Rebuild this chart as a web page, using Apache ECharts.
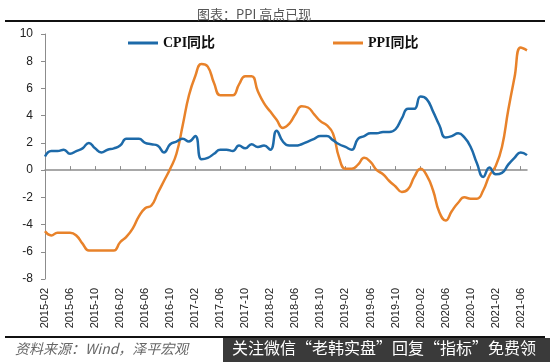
<!DOCTYPE html>
<html>
<head>
<meta charset="utf-8">
<script src="https://cdn.jsdelivr.net/npm/echarts@6/dist/echarts.min.js"></script>
<style>html,body{margin:0;padding:0;background:#fff}#c{width:550px;height:362px}</style>
</head>
<body>
<div id="c"></div>
<script>
var categories = [
'2015-02','2015-03','2015-04','2015-05','2015-06','2015-07','2015-08','2015-09','2015-10','2015-11','2015-12','2016-01',
'2016-02','2016-03','2016-04','2016-05','2016-06','2016-07','2016-08','2016-09','2016-10','2016-11','2016-12','2017-01',
'2017-02','2017-03','2017-04','2017-05','2017-06','2017-07','2017-08','2017-09','2017-10','2017-11','2017-12','2018-01',
'2018-02','2018-03','2018-04','2018-05','2018-06','2018-07','2018-08','2018-09','2018-10','2018-11','2018-12','2019-01',
'2019-02','2019-03','2019-04','2019-05','2019-06','2019-07','2019-08','2019-09','2019-10','2019-11','2019-12','2020-01',
'2020-02','2020-03','2020-04','2020-05','2020-06','2020-07','2020-08','2020-09','2020-10','2020-11','2020-12','2021-01',
'2021-02','2021-03','2021-04','2021-05','2021-06','2021-07'
];
var cpi = [
1.0, 1.4, 1.4, 1.5, 1.2, 1.4, 1.6, 2.0, 1.6, 1.3, 1.5, 1.6,
1.8, 2.3, 2.3, 2.3, 2.0, 1.9, 1.8, 1.3, 1.9, 2.1, 2.3, 2.1,
2.5, 0.8, 0.9, 1.2, 1.5, 1.5, 1.4, 1.8, 1.6, 1.9, 1.7, 1.8,
1.5, 2.9, 2.1, 1.8, 1.8, 1.9, 2.1, 2.3, 2.5, 2.5, 2.2, 1.9,
1.7, 1.5, 2.3, 2.5, 2.7, 2.7, 2.8, 2.8, 3.0, 3.8, 4.5, 4.5,
5.4, 5.2, 4.3, 3.3, 2.4, 2.5, 2.7, 2.4, 1.7, 0.5, -0.5, 0.2,
-0.3, -0.2, 0.4, 0.9, 1.3, 1.1
];
var ppi = [
-4.5, -4.8, -4.6, -4.6, -4.6, -4.8, -5.4, -5.9, -5.9, -5.9, -5.9, -5.9,
-5.3, -4.9, -4.3, -3.4, -2.8, -2.6, -1.7, -0.8, 0.1, 1.2, 3.3, 5.5,
6.9, 7.8, 7.6, 6.4, 5.5, 5.5, 5.5, 6.3, 6.9, 6.9, 5.8, 4.9,
4.3, 3.7, 3.1, 3.4, 4.1, 4.7, 4.6, 4.1, 3.6, 3.3, 2.7, 0.9,
0.1, 0.1, 0.4, 0.9, 0.6, 0.0, -0.3, -0.8, -1.2, -1.6, -1.4, -0.5,
0.1, -0.4, -1.5, -3.1, -3.7, -3.0, -2.4, -2.0, -2.1, -2.1, -1.5, -0.4,
0.3, 1.7, 4.4, 6.8, 9.0, 8.8
];
var yTicks = {min: -8, max: 10, interval: 2};
var titleText = '图表：PPI 高点已现';
var sourceText = '资料来源：Wind，泽平宏观';
var bannerText = '关注微信“老韩实盘”回复“指标”免费领';

var chart = echarts.init(document.getElementById('c'), null, {renderer: 'canvas'});
var legendFont = {fontSize: 14, fontWeight: 'bold', color: '#111', fontFamily: '"Liberation Serif","Noto Sans CJK SC",serif'};
var option = {
  animation: false,
  backgroundColor: '#fff',
  title: {
    text: titleText, left: 192, top: 3,
    textStyle: {fontSize: 13, fontWeight: 'normal', color: '#555', fontFamily: '"Noto Sans CJK SC",sans-serif'}
  },
  legend: [
    {data: ['CPI同比'], left: 128, top: 36, padding: 0, icon: 'rect', itemWidth: 30, itemHeight: 3, textStyle: legendFont},
    {data: ['PPI同比'], left: 333, top: 36, padding: 0, icon: 'rect', itemWidth: 30, itemHeight: 3, textStyle: legendFont}
  ],
  grid: {left: 45, right: 23, top: 34, bottom: 83, containLabel: false},
  xAxis: [
    {
      type: 'category', data: categories, boundaryGap: false, position: 'bottom',
      axisLine: {show: false, onZero: false}, axisTick: {show: false},
      axisLabel: {interval: 3, rotate: 90, margin: 9, fontSize: 11, color: '#222', fontFamily: '"Liberation Sans",Arial,sans-serif'}
    },
    {
      type: 'category', data: categories, boundaryGap: false, position: 'bottom',
      axisLine: {show: true, onZero: true, lineStyle: {color: '#8c8c8c', width: 1.5}},
      axisTick: {show: true, inside: true, interval: 3, length: 4, lineStyle: {color: '#8c8c8c', width: 1}},
      axisLabel: {show: false}
    }
  ],
  yAxis: {
    type: 'value', min: yTicks.min, max: yTicks.max, interval: yTicks.interval,
    axisLine: {show: true, onZero: false, lineStyle: {color: '#8c8c8c', width: 1}},
    axisTick: {show: true, length: 4, lineStyle: {color: '#8c8c8c'}},
    splitLine: {show: false},
    axisLabel: {margin: 12, fontSize: 12, color: '#222', fontFamily: '"Liberation Sans",Arial,sans-serif'}
  },
  series: [
    {name: 'CPI同比', type: 'line', data: cpi, xAxisIndex: 0, smooth: 0.5, symbol: 'none',
     lineStyle: {color: '#1d6aa9', width: 2.5}, itemStyle: {color: '#1d6aa9'}, z: 3},
    {name: 'PPI同比', type: 'line', data: ppi, xAxisIndex: 0, smooth: 0.5, symbol: 'none',
     lineStyle: {color: '#e8822a', width: 2.5}, itemStyle: {color: '#e8822a'}, z: 2}
  ],
  graphic: [
    {type: 'line', shape: {x1: 5, y1: 21, x2: 545, y2: 21}, style: {stroke: '#111', lineWidth: 2}},
    {type: 'line', shape: {x1: 5, y1: 337, x2: 545, y2: 337}, style: {stroke: '#111', lineWidth: 2}},
    {type: 'text', left: 15, top: 342, style: {text: sourceText, fill: '#666', font: 'italic 14px "Noto Sans CJK SC",sans-serif'}},
    {type: 'rect', shape: {x: 223, y: 338, width: 327, height: 24}, style: {fill: '#3a3a3a'}},
    {type: 'text', left: 232, top: 340, style: {text: bannerText, fill: '#fff', font: '16px "Noto Sans CJK SC",sans-serif'}}
  ]
};
chart.setOption(option);
</script>
</body>
</html>
